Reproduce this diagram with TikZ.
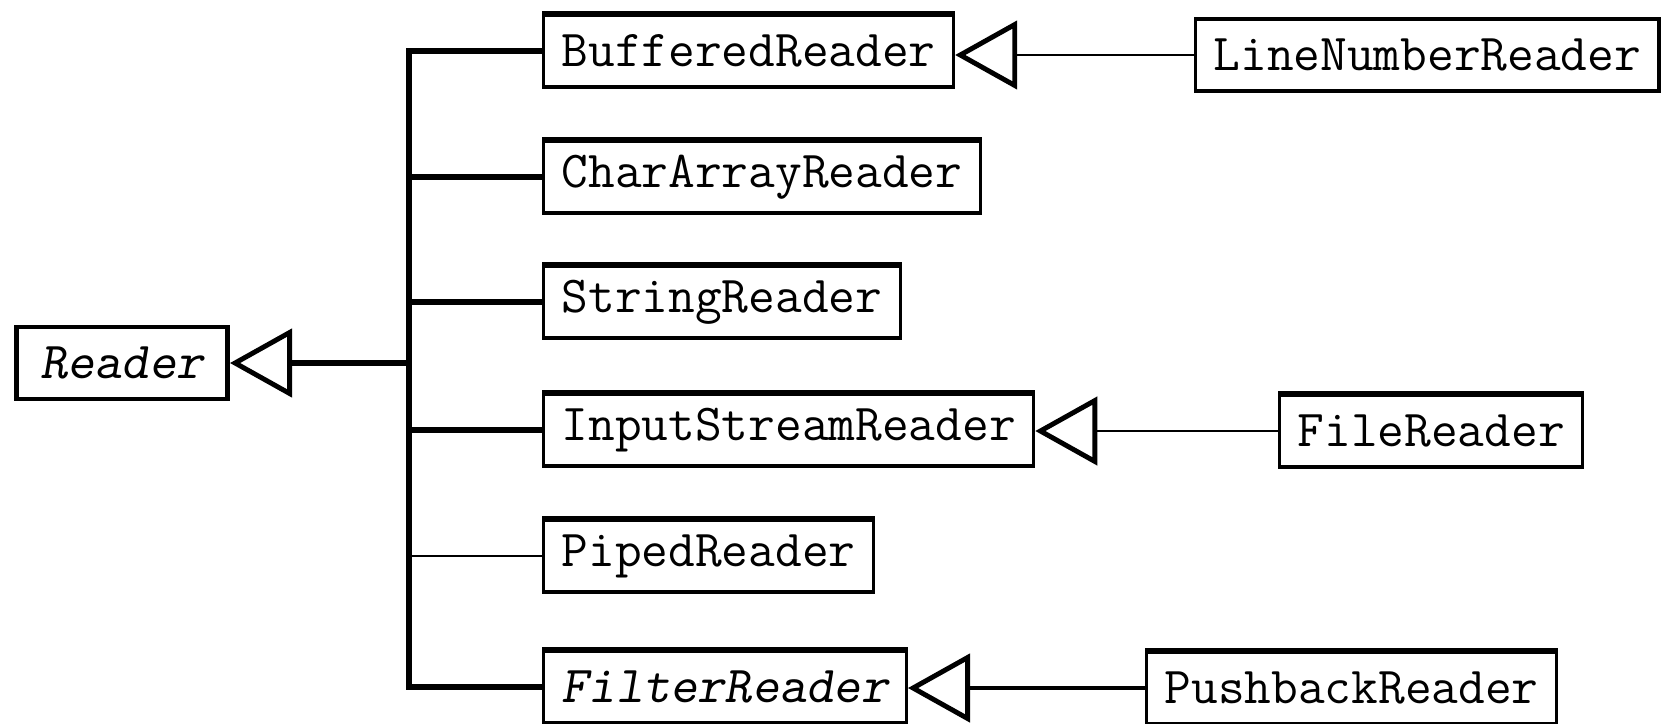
\documentclass[tikz,border=0pt]{standalone}
\usepackage{fontspec}
\usetikzlibrary{arrows.meta}
\begin{document}
\begin{tikzpicture}[x=0.01cm,y=-0.01cm,
  cls/.style={draw, line width=0.9pt, anchor=west, minimum height=0.72cm,
    inner xsep=0.18cm, inner ysep=0pt, font=\fontsize{14.75}{17}\selectfont\ttfamily},
  topedge/.style={line width=1.4pt, line cap=butt},
  heavy/.style={line width=1.45pt, line join=miter},
  light/.style={line width=0.75pt},
  midline/.style={line width=1.05pt},
  gen/.style={-{Triangle[open,length=0.62cm,width=0.68cm,line width=1.4pt]}}]
\useasboundingbox (0,0) rectangle (1663,724);
\clip (0,0) rectangle (1663,724);

\node[cls, inner xsep=0.24cm, line width=1.3pt] (reader) at (14,363) {\slshape Reader};
\node[cls] (br)  at (542,51)  {BufferedReader};
\node[cls] (car) at (542,177) {CharArrayReader};
\node[cls] (sr)  at (542,302) {StringReader};
\node[cls] (isr) at (542,430) {InputStreamReader};
\node[cls] (pr)  at (542,556) {PipedReader};
\node[cls] (fr)  at (542,687) {\slshape FilterReader};
\node[cls] (lnr) at (1194,55) {LineNumberReader};
\node[cls] (file) at (1278,431) {FileReader};
\node[cls] (pbr) at (1145,688) {PushbackReader};

\foreach \n in {br,car,sr,isr,pr,fr,file,pbr}
  \draw[topedge] (\n.north west) -- (\n.north east);

\coordinate (bt) at (409,51);
\coordinate (bb) at (409,687);

\draw[heavy] (br.west) -- (bt) -- (bb) -- (fr.west);
\draw[heavy] (car.west) -- (car.west -| bt);
\draw[heavy] (sr.west) -- (sr.west -| bt);
\draw[heavy] (isr.west) -- (isr.west -| bt);
\draw[light] (pr.west) -- (pr.west -| bt);
\draw[heavy,gen] (reader.east -| bt) -- (reader.east);

\draw[light,gen] (lnr.west) -- (lnr.west -| br.east);
\draw[light,gen] (file.west) -- (file.west -| isr.east);
\draw[midline,gen] (pbr.west) -- (pbr.west -| fr.east);
\end{tikzpicture}
\end{document}
